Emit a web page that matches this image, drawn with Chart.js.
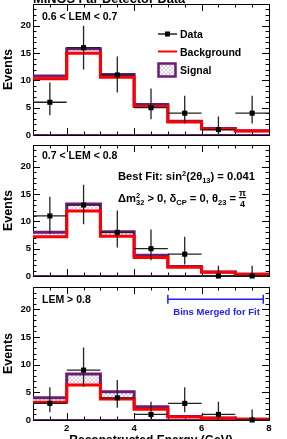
<!DOCTYPE html>
<html>
<head>
<meta charset="utf-8">
<script src="https://cdn.jsdelivr.net/npm/chart.js@4.4.0/dist/chart.umd.min.js"></script>
<style>
html, body { margin: 0; padding: 0; background: #fff; }
#wrap { position: relative; width: 287px; height: 439px; overflow: hidden; }
#wrap canvas { position: absolute; left: 0; top: 0; }
</style>
</head>
<body>
<div id="wrap">
  <canvas id="p1" width="287" height="439"></canvas>
  <canvas id="p2" width="287" height="439"></canvas>
  <canvas id="p3" width="287" height="439"></canvas>
</div>
<script>
// bin edges in GeV
const binEdges = [1, 2, 3, 4, 5, 6, 7, 8];
const yTicks = [0, 5, 10, 15, 20];
const xTicks = [2, 4, 6, 8];

// 0.6 < LEM < 0.7
const dataA   = [6, 16, 11, 5, 4, 1, 4];
const dataALo = [3.6, 12.0, 7.8, 2.9, 2.1, 0.2, 2.1];
const dataAHi = [9.6, 20.0, 14.4, 8.5, 7.2, 3.4, 7.2];
const bkgA    = [10.3, 15.0, 10.6, 5.2, 2.4, 1.1, 0.75];
const totA    = [10.8, 15.8, 11.1, 5.6, 2.5, 1.2, 0.8];

// 0.7 < LEM < 0.8
const dataB   = [11, 13, 8, 5, 4, 0, 0];
const dataBLo = [7.7, 9.5, 5.2, 2.9, 2.1, 0, 0];
const dataBHi = [14.5, 16.7, 12.0, 8.5, 7.2, 1.9, 1.9];
const bkgB    = [7.2, 11.9, 7.3, 3.4, 1.6, 0.7, 0.3];
const totB    = [8.0, 13.2, 8.1, 3.8, 1.75, 0.75, 0.33];

// LEM > 0.8
const dataC   = [3, 9, 4, 1, 3, 1, 0];
const dataCLo = [1.4, 6.0, 2.2, 0.2, 1.4, 0.2, 0];
const dataCHi = [5.9, 13.1, 7.2, 3.3, 5.9, 3.3, 1.9];
const bkgC    = [3.2, 6.3, 3.8, 1.95, 0.55, 0.3, 0.12];
const totC    = [4.0, 8.3, 5.1, 2.4, 0.65, 0.35, 0.15];

// "Bins Merged for Fit" marker
const mergedFrom = 5, mergedTo = 7.83, mergedY = 21.8;

const FONT = '"Liberation Sans", Arial, Helvetica, sans-serif';
const PURPLE = '#6b1d73';
const RED = '#ff0000';
const BLUE = '#2222ff';

Chart.defaults.font.family = FONT;
Chart.defaults.font.weight = 'bold';
Chart.defaults.color = '#000';

function hatchPattern() {
    const c = document.createElement('canvas');
    c.width = 4; c.height = 4;
    const g = c.getContext('2d');
    g.fillStyle = '#ffffff';
    g.fillRect(0, 0, 4, 4);
    g.fillStyle = 'rgba(150, 60, 150, 0.28)';
    for (let i = 0; i < 4; i++) {
        g.fillRect(i, i, 1, 1);
        g.fillRect(3 - i, i, 1, 1);
    }
    return g.createPattern(c, 'repeat');
}
const hatch = hatchPattern();

// histogram outline: one point per bin edge, last value repeated
// (used with stepped 'before' = horizontal first, then vertical)
function stepPoints(vals) {
    return binEdges.map((e, i) => ({ x: e, y: vals[Math.min(i, vals.length - 1)] }));
}
function centerPoints(vals) {
    return vals.map((v, i) => ({ x: (binEdges[i] + binEdges[i + 1]) / 2, y: v }));
}

function font(size) { return 'bold ' + size + 'px ' + FONT; }

function drawRuns(ctx, x, y, runs) {
    for (const r of runs) {
        ctx.font = font(r.size);
        ctx.fillText(r.t, x, y + (r.dy || 0));
        if (!r.stay) x += ctx.measureText(r.t).width;
    }
    return x;
}

// frame with inward ticks, ROOT style
const framePlugin = {
    id: 'frame',
    beforeDatasetsDraw(chart) {
        const { ctx, chartArea: a } = chart;
        const x = chart.scales.x, y = chart.scales.y;
        ctx.save();
        ctx.strokeStyle = '#000';
        ctx.lineWidth = 1;
        ctx.beginPath();
        for (let v = binEdges[0]; v <= binEdges[binEdges.length - 1] + 0.001; v += 0.5) {
            const px = Math.round(x.getPixelForValue(v)) + 0.5;
            const len = v % 2 === 0 ? 7 : 3.5;
            ctx.moveTo(px, a.bottom); ctx.lineTo(px, a.bottom - len);
            ctx.moveTo(px, a.top); ctx.lineTo(px, a.top + len);
        }
        for (let v = 0; v <= y.max; v++) {
            const py = Math.round(y.getPixelForValue(v)) + 0.5;
            const len = v % 5 === 0 ? 7 : 3.5;
            ctx.moveTo(a.left, py); ctx.lineTo(a.left + len, py);
            ctx.moveTo(a.right, py); ctx.lineTo(a.right - len, py);
        }
        ctx.stroke();
        ctx.strokeRect(Math.round(a.left) + 0.5, Math.round(a.top) + 0.5,
            Math.round(a.right - a.left), Math.round(a.bottom - a.top));
        ctx.strokeStyle = PURPLE;
        ctx.beginPath();
        ctx.moveTo(a.left, Math.round(a.bottom) - 0.5);
        ctx.lineTo(a.right, Math.round(a.bottom) - 0.5);
        ctx.stroke();
        // y title
        ctx.fillStyle = '#000';
        ctx.font = font(12.5);
        ctx.textAlign = 'center';
        ctx.textBaseline = 'middle';
        ctx.translate(9, (a.top + a.bottom) / 2);
        ctx.rotate(-Math.PI / 2);
        ctx.fillText('Events', 0, 0);
        ctx.restore();
    }
};

const errorBars = {
    id: 'errorBars',
    beforeDatasetDraw(chart, args) {
        const ds = chart.data.datasets[args.index];
        if (!ds.errLo) return;
        const { ctx } = chart;
        const x = chart.scales.x, y = chart.scales.y;
        ctx.save();
        ctx.strokeStyle = '#222';
        ctx.lineWidth = 1.3;
        ctx.beginPath();
        ds.data.forEach((p, i) => {
            const px = x.getPixelForValue(p.x), py = y.getPixelForValue(p.y);
            ctx.moveTo(px, y.getPixelForValue(ds.errLo[i]));
            ctx.lineTo(px, y.getPixelForValue(ds.errHi[i]));
            ctx.moveTo(x.getPixelForValue(binEdges[i]), py);
            ctx.lineTo(x.getPixelForValue(binEdges[i + 1]), py);
        });
        ctx.stroke();
        ctx.restore();
    }
};

function makePanel(id, top, bottom, showX, vals, lo, hi, bkg, tot, extra) {
    const xh = showX ? 19 : 0;
    return new Chart(document.getElementById(id), {
        type: 'line',
        data: {
            datasets: [
                {
                    data: centerPoints(vals), showLine: false, clip: false,
                    pointStyle: 'rect', pointRadius: 3.6, borderWidth: 0,
                    backgroundColor: '#000', borderColor: '#000',
                    errLo: lo, errHi: hi
                },
                {
                    data: stepPoints(bkg), stepped: 'before', fill: false,
                    borderColor: RED, borderWidth: 3, pointRadius: 0
                },
                {
                    data: stepPoints(tot), stepped: 'before', fill: 1,
                    backgroundColor: hatch, borderColor: PURPLE, borderWidth: 3, pointRadius: 0
                }
            ]
        },
        options: {
            responsive: false,
            animation: false,
            events: [],
            devicePixelRatio: 1,
            layout: { padding: { left: 0, right: 18, top: top, bottom: 439 - bottom - xh } },
            plugins: { legend: { display: false }, tooltip: { enabled: false } },
            scales: {
                x: {
                    type: 'linear', min: binEdges[0], max: binEdges[binEdges.length - 1],
                    grid: { display: false, drawTicks: false }, border: { display: false },
                    afterBuildTicks: s => { s.ticks = xTicks.map(v => ({ value: v })); },
                    ticks: { display: showX, font: { size: 9.5, weight: 'bold' }, padding: 3 },
                    afterFit: s => { s.height = xh; s.paddingLeft = 0; s.paddingRight = 0; }
                },
                y: {
                    type: 'linear', min: 0, max: 24,
                    grid: { display: false, drawTicks: false }, border: { display: false },
                    afterBuildTicks: s => { s.ticks = yTicks.map(v => ({ value: v })); },
                    ticks: { font: { size: 9.5, weight: 'bold' }, padding: 2 },
                    afterFit: s => { s.width = 33; s.paddingTop = 0; s.paddingBottom = 0; }
                }
            }
        },
        plugins: [framePlugin, errorBars, { id: 'extra', afterDraw: extra }]
    });
}

// panel 1
makePanel('p1', 4, 135, false, dataA, dataALo, dataAHi, bkgA, totA, function(chart) {
    const ctx = chart.ctx;
    ctx.save();
    ctx.fillStyle = '#000';
    ctx.textAlign = 'left';
    ctx.textBaseline = 'alphabetic';
    ctx.font = font(12.8);
    ctx.fillText('MINOS Far Detector Data', 33, 3);
    ctx.font = font(10.5);
    ctx.fillText('0.6 < LEM < 0.7', 42, 19.8);
    // legend
    ctx.strokeStyle = '#000';
    ctx.lineWidth = 1.3;
    ctx.beginPath(); ctx.moveTo(158, 34); ctx.lineTo(177, 34); ctx.stroke();
    ctx.fillRect(165, 31.5, 5, 5);
    ctx.strokeStyle = RED;
    ctx.lineWidth = 2;
    ctx.beginPath(); ctx.moveTo(158, 51.5); ctx.lineTo(177, 51.5); ctx.stroke();
    ctx.fillStyle = hatch;
    ctx.fillRect(158.5, 63.5, 17, 13);
    ctx.strokeStyle = PURPLE;
    ctx.lineWidth = 2.5;
    ctx.strokeRect(158.5, 63.5, 17, 13);
    ctx.fillStyle = '#000';
    ctx.font = font(10.5);
    ctx.fillText('Data', 180, 38);
    ctx.fillText('Background', 180, 55.5);
    ctx.fillText('Signal', 180, 74);
    ctx.restore();
});

// panel 2
makePanel('p2', 145, 276, false, dataB, dataBLo, dataBHi, bkgB, totB, function(chart) {
    const ctx = chart.ctx;
    ctx.save();
    ctx.fillStyle = '#000';
    ctx.textAlign = 'left';
    ctx.textBaseline = 'alphabetic';
    ctx.font = font(10.5);
    ctx.fillText('0.7 < LEM < 0.8', 42, 158.8);
    const big = 11.2, small = 7.5;
    drawRuns(ctx, 118, 180, [
        { t: 'Best Fit: sin', size: big },
        { t: '2', size: small, dy: -4.5 },
        { t: '(2\u03b8', size: big },
        { t: '13', size: small, dy: 3 },
        { t: ') = 0.041', size: big }
    ]);
    let x = drawRuns(ctx, 118, 202, [
        { t: '\u0394m', size: big },
        { t: '2', size: small, dy: -4.5, stay: true },
        { t: '32', size: small, dy: 3 },
        { t: ' > 0, \u03b4', size: big },
        { t: 'CP', size: small, dy: 3 },
        { t: ' = 0, \u03b8', size: big },
        { t: '23', size: small, dy: 3 },
        { t: ' = ', size: big }
    ]);
    ctx.font = font(9);
    ctx.textAlign = 'center';
    const w = 7;
    ctx.fillText('\u03c0', x + w / 2, 196);
    ctx.fillText('4', x + w / 2, 206.5);
    ctx.fillRect(x, 197, w, 1.2);
    ctx.restore();
});

// panel 3
makePanel('p3', 287, 420, true, dataC, dataCLo, dataCHi, bkgC, totC, function(chart) {
    const ctx = chart.ctx;
    const xs = chart.scales.x, ys = chart.scales.y, a = chart.chartArea;
    ctx.save();
    ctx.fillStyle = '#000';
    ctx.textAlign = 'left';
    ctx.textBaseline = 'alphabetic';
    ctx.font = font(10.5);
    ctx.fillText('LEM > 0.8', 42, 302.8);
    ctx.font = font(12);
    ctx.textAlign = 'center';
    ctx.fillText('Reconstructed Energy (GeV)', (a.left + a.right) / 2, 444);
    // merged bins marker
    const x1 = xs.getPixelForValue(mergedFrom), x2 = xs.getPixelForValue(mergedTo);
    const yy = ys.getPixelForValue(mergedY);
    ctx.strokeStyle = BLUE;
    ctx.lineWidth = 1.5;
    ctx.beginPath();
    ctx.moveTo(x1, yy); ctx.lineTo(x2, yy);
    ctx.moveTo(x1, yy - 4.5); ctx.lineTo(x1, yy + 4.5);
    ctx.moveTo(x2, yy - 4.5); ctx.lineTo(x2, yy + 4.5);
    ctx.stroke();
    ctx.fillStyle = BLUE;
    ctx.font = font(9.5);
    ctx.fillText('Bins Merged for Fit', (x1 + x2) / 2 + 1, yy + 16);
    ctx.restore();
});
</script>
</body>
</html>
